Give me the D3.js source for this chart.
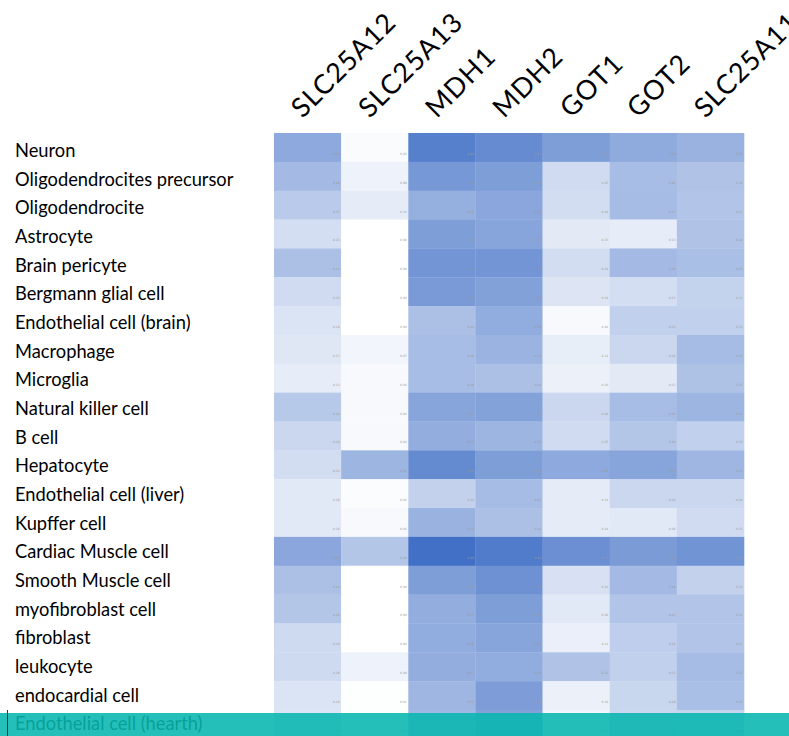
<!DOCTYPE html>
<html>
<head>
<meta charset="utf-8">
<script src="https://cdn.jsdelivr.net/npm/d3@7"></script>
<style>
  html, body { margin: 0; padding: 0; background: #ffffff; }
  svg { display: block; }
</style>
</head>
<body>
<div id="chart"></div>
<script>
// Genes (columns) and cell types (rows) of the expression heatmap
const genes = ["SLC25A12", "SLC25A13", "MDH1", "MDH2", "GOT1", "GOT2", "SLC25A11"];
const cellTypes = [
  "Neuron", "Oligodendrocites precursor", "Oligodendrocite", "Astrocyte",
  "Brain pericyte", "Bergmann glial cell", "Endothelial cell (brain)",
  "Macrophage", "Microglia", "Natural killer cell", "B cell", "Hepatocyte",
  "Endothelial cell (liver)", "Kupffer cell", "Cardiac Muscle cell",
  "Smooth Muscle cell", "myofibroblast cell", "fibroblast", "leukocyte",
  "endocardial cell", "Endothelial cell (hearth)"
];
// Relative expression per cell type, one entry per gene (same order as genes)
const neuron        = [0.60, 0.03, 0.89, 0.81, 0.68, 0.59, 0.54];
const opc           = [0.48, 0.09, 0.72, 0.68, 0.25, 0.46, 0.42];
const oligo         = [0.37, 0.14, 0.56, 0.62, 0.24, 0.47, 0.41];
const astrocyte     = [0.23, 0.00, 0.68, 0.63, 0.15, 0.13, 0.42];
const pericyte      = [0.44, 0.00, 0.74, 0.74, 0.24, 0.48, 0.45];
const bergmann      = [0.25, 0.00, 0.71, 0.66, 0.18, 0.23, 0.31];
const endoBrain     = [0.19, 0.00, 0.44, 0.58, 0.04, 0.33, 0.33];
const macrophage    = [0.17, 0.07, 0.46, 0.53, 0.12, 0.28, 0.47];
const microglia     = [0.13, 0.04, 0.46, 0.44, 0.10, 0.15, 0.43];
const nkCell        = [0.38, 0.04, 0.63, 0.65, 0.28, 0.46, 0.52];
const bCell         = [0.28, 0.04, 0.57, 0.52, 0.25, 0.40, 0.33];
const hepatocyte    = [0.24, 0.52, 0.82, 0.68, 0.60, 0.63, 0.51];
const endoLiver     = [0.16, 0.02, 0.32, 0.47, 0.14, 0.28, 0.28];
const kupffer       = [0.16, 0.04, 0.54, 0.44, 0.14, 0.16, 0.25];
const cardiac       = [0.62, 0.40, 1.00, 0.92, 0.78, 0.70, 0.75];
const smoothMuscle  = [0.44, 0.00, 0.68, 0.77, 0.21, 0.48, 0.32];
const myofibroblast = [0.40, 0.00, 0.57, 0.68, 0.16, 0.41, 0.41];
const fibroblast    = [0.26, 0.00, 0.58, 0.63, 0.11, 0.34, 0.41];
const leukocyte     = [0.26, 0.09, 0.57, 0.58, 0.42, 0.33, 0.47];
const endocardial   = [0.19, 0.01, 0.51, 0.69, 0.10, 0.29, 0.45];
const endoHeart     = [0.18, 0.01, 0.50, 0.66, 0.07, 0.28, 0.30];

const matrix = [neuron, opc, oligo, astrocyte, pericyte, bergmann, endoBrain,
  macrophage, microglia, nkCell, bCell, hepatocyte, endoLiver, kupffer, cardiac,
  smoothMuscle, myofibroblast, fibroblast, leukocyte, endocardial, endoHeart];

const cells = [];
cellTypes.forEach((ct, i) => genes.forEach((g, j) => cells.push({ row: ct, gene: g, value: matrix[i][j] })));

const W = 789, H = 736;
const svg = d3.select("#chart").append("svg").attr("width", W).attr("height", H);

const rowStep = 28.85;
const x = d3.scaleBand().domain(genes).range([274, 744]);
const y = d3.scaleBand().domain(cellTypes).range([133, 133 + rowStep * cellTypes.length]);
const yLabel = d3.scaleBand().domain(cellTypes).range([136, 136 + 28.68 * cellTypes.length]);
const color = d3.scaleLinear().domain([0, 1]).range(["#ffffff", "#4270c6"]).interpolate(d3.interpolateRgb);
const fmt = d3.format(".2f");

// heatmap cells
svg.append("g").selectAll("rect").data(cells).join("rect")
  .attr("x", d => x(d.gene))
  .attr("y", d => y(d.row))
  .attr("width", x.bandwidth() + 0.3)
  .attr("height", y.bandwidth() + 0.3)
  .attr("fill", d => color(d.value));

// tiny value labels in each cell
svg.append("g").selectAll("text").data(cells).join("text")
  .attr("x", d => x(d.gene) + x.bandwidth() - 1.5)
  .attr("y", d => y(d.row) + y.bandwidth() - 7)
  .attr("text-anchor", "end")
  .attr("font-family", "DejaVu Sans, sans-serif")
  .attr("font-size", 3)
  .attr("fill", "#9a9a9a")
  .text(d => fmt(d.value));

// row labels
svg.append("g").selectAll("text").data(cellTypes).join("text")
  .attr("x", 15)
  .attr("y", d => yLabel(d) + yLabel.bandwidth() / 2 + 6.5)
  .attr("font-family", "Lato, sans-serif")
  .attr("font-size", 18.3)
  .attr("fill", "#000")
  .text(d => d);

// rotated column headers
svg.append("g").selectAll("text").data(genes).join("text")
  .attr("transform", d => `translate(${x(d) + x.bandwidth() / 2 - 5},119) rotate(-45)`)
  .attr("font-family", "Lato, sans-serif")
  .attr("font-size", 27)
  .attr("letter-spacing", 1)
  .attr("fill", "#000")
  .text(d => d);

// highlight band across the bottom row
svg.append("rect")
  .attr("x", 0).attr("y", 713).attr("width", W).attr("height", H - 713)
  .attr("fill", "#07b6af").attr("opacity", 0.88);
svg.append("line")
  .attr("x1", 7.5).attr("x2", 7.5).attr("y1", 710).attr("y2", H)
  .attr("stroke", "#333").attr("stroke-width", 1);
</script>
</body>
</html>
